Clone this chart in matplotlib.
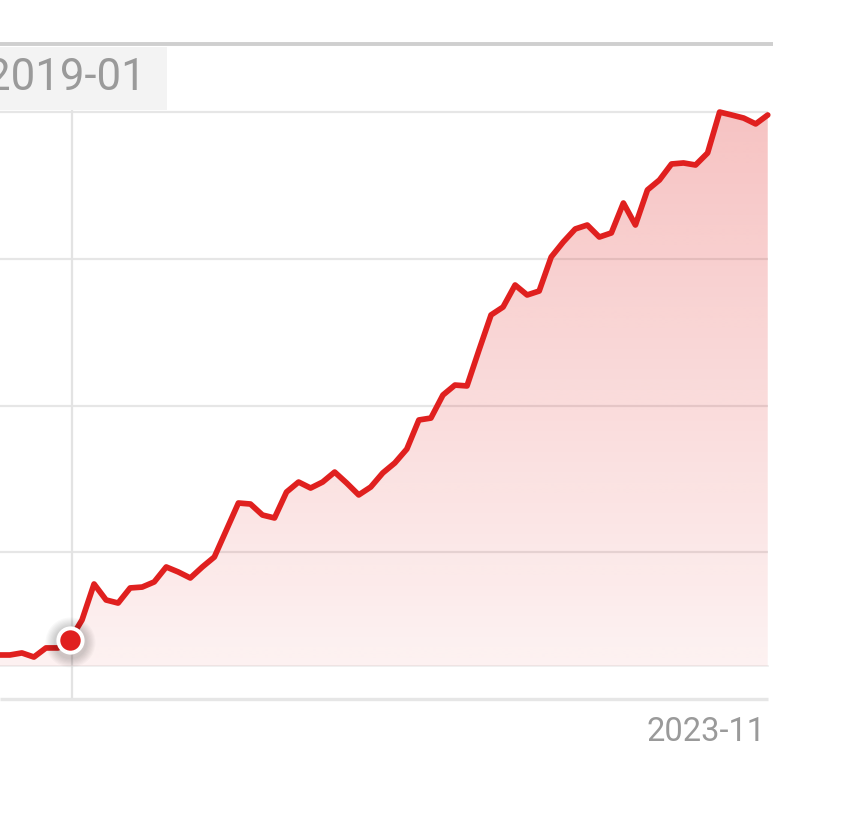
import numpy as np
import pandas as pd
import matplotlib
matplotlib.use("Agg")
import matplotlib.pyplot as plt
from matplotlib.patches import Polygon, Rectangle
from matplotlib.colors import to_rgb

# ---------------- data ----------------
months = [p.strftime("%Y-%m") for p in pd.period_range("2018-07", "2023-11", freq="M")]
values = [30.0, 30.0, 31.4, 28.6, 34.8, 34.8,            # 2018-07 .. 2018-12
          40.2, 53.9, 78.4, 67.5, 65.4, 75.7, 76.3, 79.8, 90.0, 86.6, 82.5, 90.0,   # 2019
          96.8, 115.2, 133.6, 132.9, 125.4, 123.4, 141.1, 147.9, 143.8, 147.9, 154.7, 147.2,  # 2020
          139.1, 144.5, 154.1, 160.9, 170.4, 190.2, 191.5, 207.2, 214.0, 213.4, 237.9, 261.8,  # 2021
          267.2, 282.2, 275.4, 278.1, 301.3, 311.5, 320.4, 323.1, 314.9, 317.7, 338.1, 323.1,  # 2022
          347.0, 353.8, 364.7, 365.4, 364.0, 372.2, 400.1, 398.1, 396.0, 392.0, 398.1]        # 2023
grid_values = [100, 200, 300, 400]
highlight = "2019-01"
last_label = "2023-11"
area_base = 22.5

# ---------------- figure ----------------
W, H = 841, 813
fig = plt.figure(figsize=(W / 100, H / 100), dpi=100)
ax = fig.add_axes([0, 0, 1, 1])
ax.set_axis_off()

x0_idx = months.index(highlight)
x = np.arange(len(months)) - x0_idx   # 2019-01 at 0
px_per_m = 12.03
ax.set_xlim(-70 / px_per_m, (W - 70) / px_per_m)
ax.set_ylim((699 - H) / 1.467, 699 / 1.467)

xmin_d = -70 / px_per_m
xend = x[-1]

red = "#e0201f"
r, g, b = to_rgb(red)

# grid lines
for gv in grid_values:
    ax.plot([xmin_d, xend], [gv, gv], color="#e6e6e6", lw=1.6, zorder=1, solid_capstyle="butt")
# bottom axis line
ax.plot([xmin_d, xend], [0, 0], color="#e6e6e6", lw=2.4, zorder=1, solid_capstyle="butt")
# top line
ax.plot([xmin_d, xend + 5 / px_per_m], [446.5, 446.5], color="#cfcfcf", lw=2.8, zorder=1,
        solid_capstyle="butt")
# baseline of area
ax.plot([xmin_d, xend], [area_base, area_base], color="#ededed", lw=1.2, zorder=1)

# gradient area
vals = np.array(values)
verts = [(x[0], area_base)] + list(zip(x, vals)) + [(x[-1], area_base)]
poly = Polygon(verts, closed=True, facecolor="none", edgecolor="none")
ax.add_patch(poly)
n = 256
grad = np.zeros((n, 1, 4))
alphas = np.linspace(0.27, 0.06, n)
grad[:, 0, 0] = r
grad[:, 0, 1] = g
grad[:, 0, 2] = b
grad[:, 0, 3] = alphas
im = ax.imshow(grad, extent=[x[0], x[-1], area_base, vals.max()], origin="upper",
               aspect="auto", zorder=2, interpolation="bilinear")
im.set_clip_path(poly)

# crosshair
ax.plot([0.17, 0.17], [(699 - 697) / 1.467, (699 - 110) / 1.467], color="#e3e3e3", lw=1.6,
        zorder=1.5)

# line
ax.plot(x, vals, color=red, lw=4.1, zorder=4, solid_joinstyle="round", solid_capstyle="round")

# highlighted point with soft shadow
hv = vals[x0_idx]
for i, s in enumerate(np.linspace(36, 24, 8)):
    ax.plot([0], [hv - 1.2], "o", ms=s, color="#000000", alpha=0.025, mec="none", zorder=4.5)
ax.plot([0], [hv], "o", ms=17.5, color=red, mec="white", mew=2.8, zorder=5)

# tooltip label
fig.patches.append(Rectangle((0, 1 - 110 / H), 167 / W, 63 / H, transform=fig.transFigure,
                             facecolor="#f3f3f3", edgecolor="none", zorder=0))
fig.text(146 / W, 1 - 78 / H, highlight, ha="right", va="center", fontsize=31.5,
         color="#9a9a9a", family="Roboto")

# last x label
fig.text(765 / W, 1 - 732 / H, last_label, ha="right", va="center", fontsize=23.5,
         color="#9a9a9a", family="Roboto")

fig.savefig("out.png", dpi=100, facecolor="white")
